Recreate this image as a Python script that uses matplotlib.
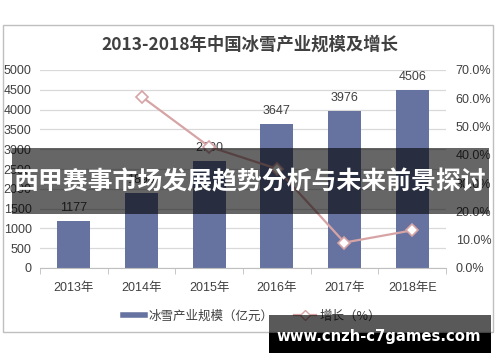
import matplotlib
matplotlib.use("Agg")
import matplotlib.pyplot as plt
import numpy as np
from matplotlib.patches import Rectangle
from matplotlib.lines import Line2D
from matplotlib.ticker import FuncFormatter, MultipleLocator

plt.rcParams['font.family'] = ['Liberation Sans', 'Noto Sans CJK SC', 'DejaVu Sans']

categories = ["2013年", "2014年", "2015年", "2016年", "2017年", "2018年E"]
scale_values = [1177, 1890, 2700, 3647, 3976, 4506]
growth_values = [np.nan, 60.6, 42.9, 35.1, 9.0, 13.3]
title = "2013-2018年中国冰雪产业规模及增长"
bar_label = "冰雪产业规模（亿元）"
line_label = "增长（%）"
banner_text = "西甲赛事市场发展趋势分析与未来前景探讨"
watermark_text = "www.cnzh-c7games.com"

W, H = 500, 362
fig = plt.figure(figsize=(W / 100, H / 100), dpi=100)

def fx(px):
    return px / W

def fy(py):
    return (H - py) / H

# chart frame
fig.patches.append(Rectangle((fx(3), fy(332)), fx(493) - fx(3), fy(25) - fy(332),
                             transform=fig.transFigure, fill=False,
                             edgecolor="#BFBFBF", linewidth=1, zorder=0))

ax = fig.add_axes([fx(40), fy(268), fx(446) - fx(40), fy(70) - fy(268)])
ax2 = ax.twinx()

x = np.arange(len(categories))
bar_color = "#6673A0"
bars = ax.bar(x, scale_values, width=0.49, color=bar_color, zorder=2)
for xi, v in zip(x, scale_values):
    ax.annotate(f"{v}", (xi, v), xytext=(0, 5), textcoords="offset points",
                ha="center", va="bottom", fontsize=9, color="#404040")

ax.set_xlim(-0.5, len(categories) - 0.5)
ax.set_ylim(0, 5000)
ax.yaxis.set_major_locator(MultipleLocator(500))
ax.grid(axis="y", color="#D9D9D9", linewidth=0.9, zorder=0)
ax.set_axisbelow(True)
for s in ["top", "left", "right"]:
    ax.spines[s].set_visible(False)
ax.spines["bottom"].set_color("#BFBFBF")
ax.set_xticks(x)
ax.set_xticklabels(categories)
ax.set_xticks(np.arange(-0.5, len(categories)), minor=True)
ax.tick_params(axis="x", which="major", length=0, pad=10, labelsize=9, labelcolor="#404040")
ax.tick_params(axis="x", which="minor", length=4, color="#BFBFBF")
ax.tick_params(axis="y", length=0, pad=6, labelsize=9, labelcolor="#404040")

line_color = "#D7A4A6"
ax2.plot(x, growth_values, color=line_color, linewidth=1.6, marker="D",
         markersize=6, markerfacecolor="white", markeredgecolor=line_color,
         markeredgewidth=1.2, zorder=3)
ax2.set_ylim(0, 70)
ax2.yaxis.set_major_locator(MultipleLocator(10))
ax2.yaxis.set_major_formatter(FuncFormatter(lambda v, p: f"{v:.1f}%"))
ax2.tick_params(axis="y", length=0, pad=7, labelsize=9, labelcolor="#404040")
for s in ["top", "left", "right", "bottom"]:
    ax2.spines[s].set_visible(False)

fig.text(0.5, fy(45), title, ha="center", va="center", fontsize=12.5,
         fontweight="bold", color="#404040", family=['Noto Sans CJK SC', 'DejaVu Sans'])

handles = [Line2D([0], [0], color=bar_color, linewidth=4),
           Line2D([0], [0], color=line_color, linewidth=1.6, marker="D", markersize=5,
                  markerfacecolor="white", markeredgecolor=line_color)]
fig.legend(handles, [bar_label, line_label], loc="center", bbox_to_anchor=(fx(252), fy(316)),
           ncol=2, frameon=False, handlelength=1.8, handletextpad=0.3,
           columnspacing=1.6, labelcolor="#404040",
           prop={'family': ['Noto Sans CJK SC', 'DejaVu Sans'], 'size': 9})

# banner overlay
fig.patches.append(Rectangle((fx(12), fy(214)), fx(489) - fx(12), fy(148) - fy(214),
                             transform=fig.transFigure, facecolor="black", alpha=0.6,
                             edgecolor="none", zorder=10))
fig.text(fx(250), fy(182), banner_text, ha="center", va="center", fontsize=17.9,
         fontweight="bold", color="white", zorder=11,
         family=['Noto Sans CJK SC', 'DejaVu Sans'])

# watermark
fig.patches.append(Rectangle((fx(269), fy(333)), fx(491) - fx(269), fy(315) - fy(333),
                             transform=fig.transFigure, facecolor="black", alpha=0.65,
                             edgecolor="none", zorder=10))
fig.patches.append(Rectangle((fx(269), fy(353)), fx(491) - fx(269), fy(333) - fy(353),
                             transform=fig.transFigure, facecolor="black",
                             edgecolor="none", zorder=10))
fig.text(fx(379), fy(337), watermark_text, ha="center", va="center", fontsize=10.7,
         fontweight="bold", color="white", zorder=11, family=['DejaVu Sans'])

fig.savefig("out.png", dpi=100)
